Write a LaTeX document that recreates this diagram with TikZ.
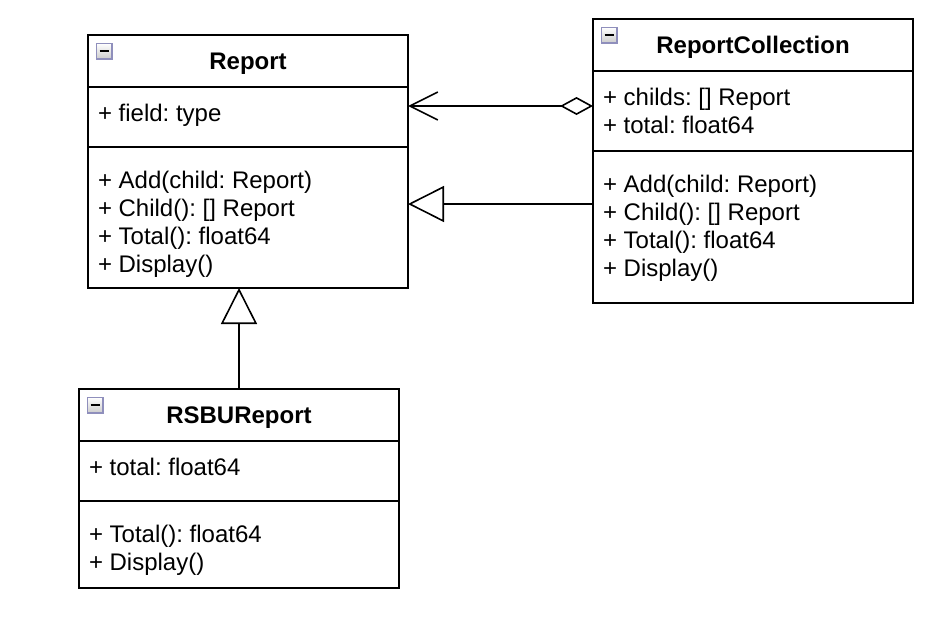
\documentclass[tikz,border=0pt]{standalone}
\usepackage{fontspec}
\setmainfont{Liberation Sans}
\usetikzlibrary{positioning, arrows.meta, calc}

\begin{document}
\begin{tikzpicture}[
    x=0.5pt,
    y=-0.5pt,
    font=\fontsize{12}{14}\selectfont\frenchspacing,
    box/.style={
        rectangle,
        draw,
        line width=1pt,
        minimum width=160pt,
        inner sep=0pt,
        outer sep=0pt
    },
    head/.style={
        box,
        minimum height=26pt,
        font=\fontsize{12}{14}\selectfont\bfseries,
        text height=8.6pt,
        text depth=0.6pt
    },
    member/.style={
        inner sep=0pt,
        outer sep=0pt,
        align=left,
        anchor=north west
    },
    toggle/.style={
        rectangle,
        draw=gray!75!blue!70,
        line width=0.7pt,
        top color=white,
        bottom color=gray!40,
        minimum size=7.8pt,
        inner sep=0pt,
        node contents={\rule{4.6pt}{1.3pt}}
    },
    inherit/.style={
        -{Triangle[open, length=18pt, width=18pt]},
        line width=0.8pt
    },
    aggr/.style={
        {Diamond[open, length=16.5pt, width=9pt]}-{Straight Barb[length=14pt, width=14pt]},
        line width=0.8pt
    }
]

    \useasboundingbox (0,0) rectangle (940,616);

    % Report
    \node[head, anchor=north west] (rep_head) at (88,35) {Report};
    \node (rep_tog) [toggle, below right=3.8pt and 3.8pt of rep_head.north west];
    \node[box, minimum height=30pt, below=0pt of rep_head] (rep_attr) {};
    \node[box, minimum height=70.5pt, below=0pt of rep_attr] (rep_ops) {};
    \node[member, below right=8.7pt and 5pt of rep_attr.north west] (rep_attr_txt) {+ field: type};
    \node[member, below right=12.2pt and 5pt of rep_ops.north west] (rep_ops_txt)
        {+ Add(child: Report)\\+ Child(): [] Report\\+ Total(): float64\\+ Display()};

    % ReportCollection
    \node[head, anchor=north west] (coll_head) at (593,19) {ReportCollection};
    \node (coll_tog) [toggle, below right=3.8pt and 3.8pt of coll_head.north west];
    \node[box, minimum height=40pt, below=0pt of coll_head] (coll_attr) {};
    \node[box, minimum height=76pt, below=0pt of coll_attr] (coll_ops) {};
    \node[member, below right=8.7pt and 5pt of coll_attr.north west] (coll_attr_txt)
        {+ childs: [] Report\\+ total: float64};
    \node[member, below right=12.2pt and 5pt of coll_ops.north west] (coll_ops_txt)
        {+ Add(child: Report)\\+ Child(): [] Report\\+ Total(): float64\\+ Display()};

    % RSBUReport
    \node[head, anchor=north west] (rsbu_head) at (79,389) {RSBUReport};
    \node (rsbu_tog) [toggle, below right=3.8pt and 3.8pt of rsbu_head.north west];
    \node[box, minimum height=30pt, below=0pt of rsbu_head] (rsbu_attr) {};
    \node[box, minimum height=43.5pt, below=0pt of rsbu_attr] (rsbu_ops) {};
    \node[member, below right=8.7pt and 5pt of rsbu_attr.north west] (rsbu_attr_txt) {+ total: float64};
    \node[member, below right=12.2pt and 5pt of rsbu_ops.north west] (rsbu_ops_txt)
        {+ Total(): float64\\+ Display()};

    % Aggregation
    \coordinate (agg_start) at ([yshift=2.5pt]coll_attr.west);
    \draw[aggr] (agg_start) -- (agg_start -| rep_attr.east);

    % Generalisation
    \coordinate (gen_start) at ([yshift=11.5pt]coll_ops.west);
    \draw[inherit] (gen_start) -- (gen_start -| rep_ops.east);
    \draw[inherit] (rsbu_head.north) -- (rsbu_head.north |- rep_ops.south);

\end{tikzpicture}
\end{document}
